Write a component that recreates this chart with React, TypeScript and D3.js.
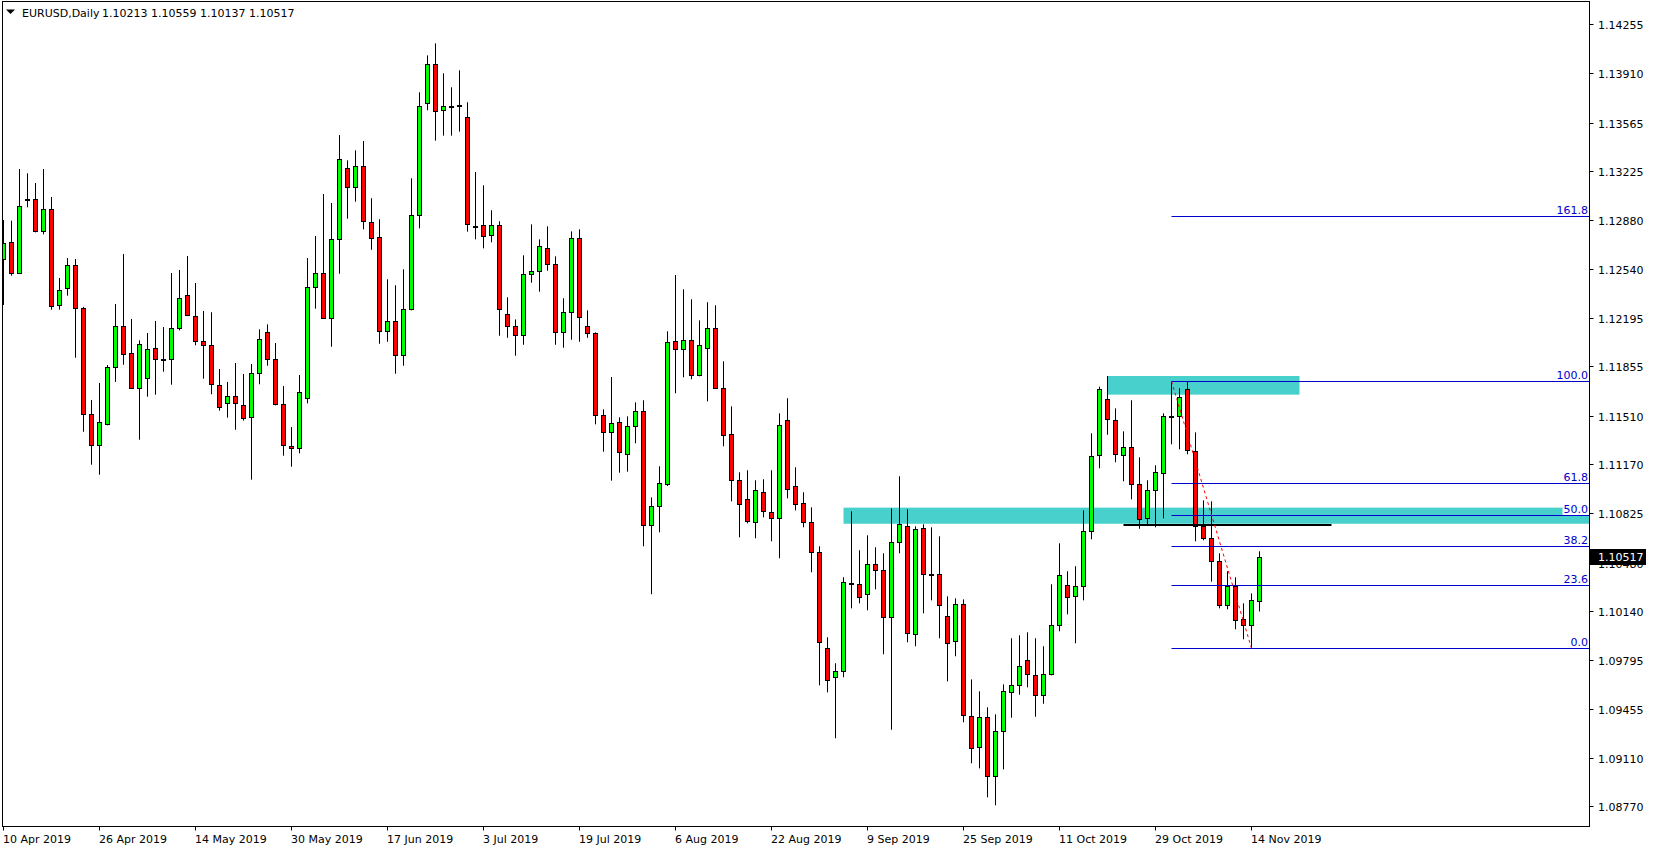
import React, { useEffect, useRef } from 'react';
import * as d3 from 'd3';

// EURUSD daily, 10 Apr 2019 .. 15 Nov 2019 (one bar per weekday)
const symbolTitle = 'EURUSD,Daily';
const lastQuote = '1.10213 1.10559 1.10137 1.10517';
const lastPrice = 1.10517;

const opens = [
  1.12606, 1.12725, 1.12508, 1.13027, 1.13031, 1.12802, 1.12957, 1.12284, 1.12403, 1.12564,
  1.12263, 1.11519, 1.11302, 1.11449, 1.11849, 1.12136, 1.11947, 1.11706, 1.11776, 1.11982,
  1.11905, 1.11905, 1.12122, 1.12354, 1.12206, 1.12031, 1.12003, 1.11723, 1.11596, 1.11646,
  1.11582, 1.11498, 1.11807, 1.12094, 1.11905, 1.11589, 1.11295, 1.11281, 1.11632, 1.12410,
  1.12508, 1.12197, 1.12746, 1.13244, 1.13111, 1.13258, 1.12866, 1.12760, 1.12101, 1.12171,
  1.11933, 1.12256, 1.12915, 1.13700, 1.13973, 1.13651, 1.13683, 1.13690, 1.13602, 1.12840,
  1.12844, 1.12774, 1.12844, 1.12220, 1.12136, 1.12073, 1.12501, 1.12522, 1.12683, 1.12571,
  1.12094, 1.12235, 1.12753, 1.12136, 1.12087, 1.11512, 1.11393, 1.11463, 1.11239, 1.11435,
  1.11540, 1.10741, 1.10874, 1.11029, 1.12031, 1.11975, 1.12038, 1.11793, 1.11982, 1.12122,
  1.11702, 1.11379, 1.11057, 1.10923, 1.10762, 1.10973, 1.10832, 1.10790, 1.11477, 1.11014,
  1.10895, 1.10762, 1.10552, 1.09879, 1.09676, 1.09718, 1.10334, 1.10328, 1.10257, 1.10468,
  1.10426, 1.10096, 1.10622, 1.10734, 1.09977, 1.10720, 1.10398, 1.10398, 1.10103, 1.09928,
  1.10187, 1.09402, 1.09185, 1.09395, 1.08981, 1.09297, 1.09570, 1.09619, 1.09795, 1.09689,
  1.09549, 1.09697, 1.10040, 1.10321, 1.10243, 1.10313, 1.10699, 1.11232, 1.11625, 1.11477,
  1.11232, 1.11288, 1.11029, 1.10790, 1.10987, 1.11106, 1.11509, 1.11505, 1.11695, 1.11260,
  1.10734, 1.10650, 1.10489, 1.10180, 1.10313, 1.10082, 1.10040, 1.10213,
];
const highs = [
  1.12882, 1.12877, 1.13239, 1.13209, 1.13141, 1.13239, 1.13043, 1.12475, 1.12615, 1.12608,
  1.12272, 1.11620, 1.11739, 1.11865, 1.12293, 1.12643, 1.12188, 1.12038, 1.12089, 1.12174,
  1.12131, 1.12510, 1.12531, 1.12629, 1.12440, 1.12244, 1.12235, 1.11837, 1.11746, 1.11879,
  1.11802, 1.11872, 1.12115, 1.12150, 1.12019, 1.11718, 1.11430, 1.11795, 1.12615, 1.12769,
  1.13064, 1.13001, 1.13477, 1.13300, 1.13370, 1.13435, 1.13034, 1.12887, 1.12466, 1.12424,
  1.12536, 1.13174, 1.13777, 1.14036, 1.14120, 1.13910, 1.13812, 1.13931, 1.13707, 1.13218,
  1.13125, 1.12950, 1.12873, 1.12340, 1.12185, 1.12634, 1.12851, 1.12746, 1.12837, 1.12627,
  1.12333, 1.12802, 1.12816, 1.12248, 1.12094, 1.11554, 1.11781, 1.11498, 1.11505, 1.11603,
  1.11618, 1.10937, 1.11155, 1.12101, 1.12496, 1.12396, 1.12326, 1.12178, 1.12305, 1.12284,
  1.11891, 1.11575, 1.11113, 1.11127, 1.11057, 1.11064, 1.11127, 1.11526, 1.11632, 1.11148,
  1.10973, 1.10867, 1.10594, 1.09956, 1.09774, 1.10377, 1.10839, 1.10566, 1.10671, 1.10587,
  1.10545, 1.10860, 1.11085, 1.10853, 1.10734, 1.10748, 1.10727, 1.10664, 1.10243, 1.10229,
  1.10222, 1.09661, 1.09577, 1.09465, 1.09416, 1.09626, 1.09949, 1.09970, 1.09991, 1.09949,
  1.09893, 1.10328, 1.10615, 1.10419, 1.10454, 1.10846, 1.11386, 1.11713, 1.11788, 1.11561,
  1.11400, 1.11618, 1.11218, 1.11057, 1.11162, 1.11526, 1.11751, 1.11702, 1.11751, 1.11393,
  1.10916, 1.10909, 1.10545, 1.10419, 1.10377, 1.10194, 1.10264, 1.10559,
];
const lows = [
  1.12286, 1.12491, 1.12503, 1.12971, 1.12795, 1.12781, 1.12253, 1.12253, 1.12351, 1.11916,
  1.11397, 1.11166, 1.11096, 1.11442, 1.11746, 1.11867, 1.11699, 1.11341, 1.11643, 1.11657,
  1.11818, 1.11727, 1.12108, 1.12209, 1.12003, 1.11769, 1.11660, 1.11545, 1.11496, 1.11411,
  1.11475, 1.11061, 1.11730, 1.11860, 1.11582, 1.11229, 1.11152, 1.11246, 1.11596, 1.12260,
  1.12190, 1.11993, 1.12505, 1.12891, 1.13010, 1.12816, 1.12673, 1.12014, 1.12028, 1.11804,
  1.11860, 1.12248, 1.12823, 1.13651, 1.13438, 1.13473, 1.13473, 1.13501, 1.12800, 1.12746,
  1.12683, 1.12725, 1.12070, 1.12056, 1.11930, 1.12007, 1.12442, 1.12379, 1.12526, 1.12007,
  1.11986, 1.12042, 1.12028, 1.12056, 1.11449, 1.11257, 1.11054, 1.11110, 1.11117, 1.11316,
  1.10594, 1.10258, 1.10692, 1.11017, 1.11667, 1.11779, 1.11765, 1.11786, 1.11610, 1.11697,
  1.11295, 1.10909, 1.10657, 1.10755, 1.10650, 1.10797, 1.10629, 1.10510, 1.10930, 1.10846,
  1.10727, 1.10412, 1.09619, 1.09570, 1.09248, 1.09676, 1.10159, 1.10194, 1.10145, 1.10292,
  1.09837, 1.09308, 1.10545, 1.09921, 1.09893, 1.10124, 1.10215, 1.09949, 1.09647, 1.09823,
  1.09360, 1.09073, 1.09037, 1.08834, 1.08778, 1.09030, 1.09392, 1.09553, 1.09605, 1.09399,
  1.09490, 1.09689, 1.09998, 1.10117, 1.09914, 1.10215, 1.10643, 1.11141, 1.11376, 1.11183,
  1.11050, 1.10923, 1.10717, 1.10748, 1.10727, 1.10790, 1.11309, 1.11274, 1.11239, 1.10629,
  1.10636, 1.10346, 1.10159, 1.10152, 1.10012, 1.09942, 1.09879, 1.10137,
];
const closes = [
  1.12722, 1.12508, 1.12978, 1.13027, 1.12802, 1.12957, 1.12277, 1.12389, 1.12564, 1.12263,
  1.11519, 1.11302, 1.11463, 1.11849, 1.12136, 1.11940, 1.11706, 1.12010, 1.11975, 1.11905,
  1.11905, 1.12122, 1.12333, 1.12213, 1.12031, 1.12003, 1.11730, 1.11568, 1.11646, 1.11596,
  1.11491, 1.11807, 1.12045, 1.11905, 1.11589, 1.11302, 1.11281, 1.11674, 1.12410, 1.12508,
  1.12197, 1.12746, 1.13307, 1.13111, 1.13258, 1.12873, 1.12753, 1.12101, 1.12171, 1.11933,
  1.12256, 1.12915, 1.13679, 1.13973, 1.13644, 1.13679, 1.13683, 1.13690, 1.12851, 1.12840,
  1.12767, 1.12844, 1.12256, 1.12136, 1.12073, 1.12501, 1.12522, 1.12697, 1.12571, 1.12094,
  1.12235, 1.12753, 1.12199, 1.12087, 1.11512, 1.11393, 1.11456, 1.11253, 1.11435, 1.11540,
  1.10741, 1.10874, 1.11036, 1.12024, 1.11975, 1.12038, 1.11793, 1.12003, 1.12122, 1.11702,
  1.11372, 1.11057, 1.10888, 1.10769, 1.10987, 1.10839, 1.10790, 1.11442, 1.10999, 1.10888,
  1.10762, 1.10552, 1.09921, 1.09654, 1.09718, 1.10342, 1.10334, 1.10236, 1.10468, 1.10426,
  1.10096, 1.10622, 1.10748, 1.09984, 1.10713, 1.10398, 1.10398, 1.10180, 1.09914, 1.10187,
  1.09409, 1.09178, 1.09395, 1.08981, 1.09297, 1.09577, 1.09619, 1.09753, 1.09697, 1.09549,
  1.09697, 1.10040, 1.10391, 1.10236, 1.10313, 1.10699, 1.11225, 1.11695, 1.11484, 1.11239,
  1.11288, 1.11029, 1.10783, 1.10987, 1.11113, 1.11505, 1.11509, 1.11639, 1.11267, 1.10734,
  1.10650, 1.10489, 1.10180, 1.10313, 1.10075, 1.10040, 1.10215, 1.10517,
];

const priceTicks = [
  1.14255, 1.1391, 1.13565, 1.13225, 1.1288, 1.1254, 1.12195, 1.11855, 1.1151,
  1.1117, 1.10825, 1.1048, 1.1014, 1.09795, 1.09455, 1.0911, 1.0877,
];
const dateTickEvery = 12;

// objects drawn on the chart (bar index + price)
const lowerZone = { from: 105, top: 1.10865, bottom: 1.10752 };
const upperZone = { from: 138, to: 162, top: 1.11788, bottom: 1.11657 };
const flatLine = { from: 140, to: 166, price: 1.10745 };
const fibHighBar = 146;
const fibLowBar = 156;
const fibLevels = [0, 23.6, 38.2, 50, 61.8, 100, 161.8];

export default function App() {
  const svgRef = useRef<SVGSVGElement>(null);

  useEffect(() => {
    if (!svgRef.current) return;
    document.body.style.margin = '0';

    const svg = d3.select(svgRef.current);
    svg.selectAll('*').remove();

    const width = 1654;
    const height = 850;
    const right = 1589.5; // price scale border
    const bottom = 826.5; // time scale border
    const font = "'DejaVu Sans', Tahoma, Verdana, sans-serif";

    const y = d3.scaleLinear().domain([1.08633, 1.1441]).range([826, 2]);
    const x = d3.scaleLinear().domain([0, 1]).range([3.5, 11.5]);
    const py = (p: number) => Math.round(y(p)) + 0.5;

    // weekdays from 10 Apr 2019
    const days: Date[] = [];
    for (let d = new Date(2019, 3, 10); days.length < opens.length; d = d3.timeDay.offset(d, 1)) {
      if (d.getDay() % 6 !== 0) days.push(d);
    }
    const fmt = d3.timeFormat('%-d %b %Y');

    svg.attr('width', width).attr('height', height).style('background', '#ffffff');

    svg.append('defs').append('clipPath').attr('id', 'plot')
      .append('rect').attr('x', 3).attr('y', 2).attr('width', 1586).attr('height', 824);

    const plot = svg.append('g').attr('clip-path', 'url(#plot)');

    // zones
    plot.append('rect')
      .attr('x', x(lowerZone.from)).attr('y', y(lowerZone.top))
      .attr('width', right - x(lowerZone.from))
      .attr('height', y(lowerZone.bottom) - y(lowerZone.top))
      .attr('fill', '#48d1cc');
    plot.append('rect')
      .attr('x', x(upperZone.from)).attr('y', y(upperZone.top))
      .attr('width', x(upperZone.to) - x(upperZone.from))
      .attr('height', y(upperZone.bottom) - y(upperZone.top))
      .attr('fill', '#48d1cc');

    // candles
    const bars = opens.map((o, i) => ({ i, o, h: highs[i], l: lows[i], c: closes[i] }));

    plot.selectAll('line.wick')
      .data(bars)
      .enter()
      .append('line')
      .attr('x1', d => x(d.i)).attr('x2', d => x(d.i))
      .attr('y1', d => y(d.h)).attr('y2', d => y(d.l))
      .attr('stroke', '#000').attr('stroke-width', 1);

    plot.selectAll('rect.body')
      .data(bars)
      .enter()
      .append('rect')
      .attr('x', d => x(d.i) - 2)
      .attr('y', d => py(Math.max(d.o, d.c)))
      .attr('width', 4)
      .attr('height', d => Math.max(py(Math.min(d.o, d.c)) - py(Math.max(d.o, d.c)), 1))
      .attr('fill', d => d.c > d.o ? '#00ff00' : d.c < d.o ? '#ff0000' : '#000000')
      .attr('stroke', '#000').attr('stroke-width', 1);

    // flat line
    plot.append('line')
      .attr('x1', x(flatLine.from)).attr('x2', x(flatLine.to))
      .attr('y1', Math.round(y(flatLine.price))).attr('y2', Math.round(y(flatLine.price)))
      .attr('stroke', '#000').attr('stroke-width', 2);

    // fibonacci
    const fibHigh = highs[fibHighBar];
    const fibLow = lows[fibLowBar];
    const fibColor = '#0000cd';
    fibLevels.forEach(lvl => {
      const p = fibLow + (fibHigh - fibLow) * lvl / 100;
      const ly = py(p);
      plot.append('line')
        .attr('x1', x(fibHighBar)).attr('x2', right)
        .attr('y1', ly).attr('y2', ly)
        .attr('stroke', fibColor).attr('stroke-width', 1);
      const bg = plot.append('rect').attr('fill', '#ffffff');
      const t = plot.append('text')
        .attr('x', right - 1.5).attr('y', ly - 2.5)
        .attr('text-anchor', 'end')
        .attr('font-family', font).attr('font-size', '11px')
        .attr('fill', fibColor)
        .text(lvl.toFixed(1));
      const bb = (t.node() as SVGTextElement).getBBox();
      bg.attr('x', bb.x - 1).attr('y', ly - 8).attr('width', bb.width + 2).attr('height', 7.5);
    });

    plot.append('line')
      .attr('x1', x(fibHighBar)).attr('y1', y(fibHigh))
      .attr('x2', x(fibLowBar)).attr('y2', y(fibLow))
      .attr('stroke', '#ff0000').attr('stroke-width', 1)
      .attr('stroke-dasharray', '3,3');

    // frame
    svg.append('rect')
      .attr('x', 2.5).attr('y', 1.5)
      .attr('width', right - 2.5).attr('height', bottom - 1.5)
      .attr('fill', 'none').attr('stroke', '#000').attr('stroke-width', 1);

    // price scale
    priceTicks.forEach(p => {
      const ty = py(p);
      svg.append('line')
        .attr('x1', right).attr('x2', right + 4)
        .attr('y1', ty).attr('y2', ty)
        .attr('stroke', '#000');
      svg.append('text')
        .attr('x', 1598).attr('y', ty + 4)
        .attr('font-family', font).attr('font-size', '11px')
        .attr('fill', '#000')
        .text(p.toFixed(5));
    });

    const ly = y(lastPrice);
    svg.append('rect')
      .attr('x', right + 0.5).attr('y', Math.round(ly) - 8)
      .attr('width', 56).attr('height', 16)
      .attr('fill', '#000');
    svg.append('text')
      .attr('x', 1598).attr('y', Math.round(ly) + 4)
      .attr('font-family', font).attr('font-size', '11px')
      .attr('fill', '#fff')
      .text(lastPrice.toFixed(5));

    // time scale
    days.forEach((d, i) => {
      if (i % dateTickEvery !== 0) return;
      svg.append('line')
        .attr('x1', x(i)).attr('x2', x(i))
        .attr('y1', bottom).attr('y2', bottom + 4)
        .attr('stroke', '#000');
      svg.append('text')
        .attr('x', x(i) - 0.5).attr('y', 843)
        .attr('font-family', font).attr('font-size', '11px')
        .attr('fill', '#000')
        .text(fmt(d));
    });

    // header
    svg.append('path')
      .attr('d', 'M6,9.5 L15,9.5 L10.5,14 Z')
      .attr('fill', '#000');
    svg.append('text')
      .attr('x', 22).attr('y', 17)
      .attr('font-family', font).attr('font-size', '11px')
      .attr('fill', '#000')
      .text(symbolTitle);
    svg.append('text')
      .attr('x', 102).attr('y', 17)
      .attr('font-family', font).attr('font-size', '11px')
      .attr('fill', '#000')
      .text(lastQuote);
  }, []);

  return (
    <div style={{ position: 'absolute', left: 0, top: 0 }}>
      <svg ref={svgRef} style={{ display: 'block' }}></svg>
    </div>
  );
}
